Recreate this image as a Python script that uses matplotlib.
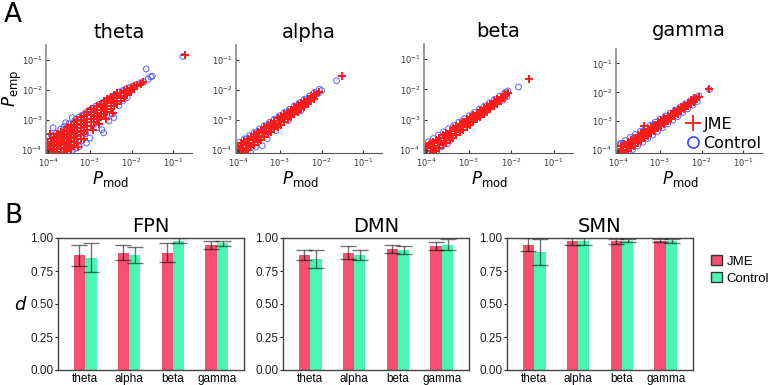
import numpy as np
import matplotlib
matplotlib.use('Agg')
import matplotlib.pyplot as plt
from matplotlib.patches import Patch
from matplotlib.lines import Line2D

bands = ['theta', 'alpha', 'beta', 'gamma']
networks = ['FPN', 'DMN', 'SMN']

# ---- panel A: (log10 P_mod, log10 P_emp) ----
theta_jme = [
    (-4.10, -4.08), (-4.10, -3.95), (-4.10, -3.82),
    (-4.02, -4.10), (-4.02, -3.97), (-4.02, -3.84), (-4.02, -3.72),
    (-3.94, -4.04), (-3.94, -3.91), (-3.94, -3.78), (-3.94, -3.64),
    (-3.86, -4.08), (-3.86, -3.96), (-3.86, -3.83), (-3.86, -3.70), (-3.86, -3.56),
    (-3.78, -4.10), (-3.78, -3.98), (-3.78, -3.86), (-3.78, -3.74), (-3.78, -3.61), (-3.78, -3.48),
    (-3.70, -4.06), (-3.70, -3.93), (-3.70, -3.80), (-3.70, -3.67), (-3.70, -3.54), (-3.70, -3.40),
    (-3.62, -4.08), (-3.62, -3.96), (-3.62, -3.84), (-3.62, -3.72), (-3.62, -3.59), (-3.62, -3.46), (-3.62, -3.32),
    (-3.54, -4.02), (-3.54, -3.89), (-3.54, -3.76), (-3.54, -3.63), (-3.54, -3.50), (-3.54, -3.37), (-3.54, -3.24),
    (-3.46, -3.95), (-3.46, -3.82), (-3.46, -3.69), (-3.46, -3.56), (-3.46, -3.43), (-3.46, -3.30), (-3.46, -3.16),
    (-3.38, -3.86), (-3.38, -3.74), (-3.38, -3.61), (-3.38, -3.48), (-3.38, -3.35), (-3.38, -3.22), (-3.38, -3.08),
    (-3.30, -3.76), (-3.30, -3.64), (-3.30, -3.52), (-3.30, -3.40), (-3.30, -3.28), (-3.30, -3.15), (-3.30, -3.00),
    (-3.22, -3.62), (-3.22, -3.50), (-3.22, -3.38), (-3.22, -3.26), (-3.22, -3.14), (-3.22, -3.02), (-3.22, -2.91),
    (-3.14, -3.48), (-3.14, -3.36), (-3.14, -3.24), (-3.14, -3.12), (-3.14, -3.00), (-3.14, -2.88),
    (-3.06, -3.32), (-3.06, -3.20), (-3.06, -3.08), (-3.06, -2.96), (-3.06, -2.84), (-3.06, -2.74),
    (-2.98, -3.20), (-2.98, -3.08), (-2.98, -2.96), (-2.98, -2.84), (-2.98, -2.72), (-2.98, -2.64),
    (-2.90, -3.08), (-2.90, -2.96), (-2.90, -2.85), (-2.90, -2.74), (-2.90, -2.62),
    (-2.82, -2.98), (-2.82, -2.87), (-2.82, -2.76), (-2.82, -2.65), (-2.82, -2.54),
    (-2.74, -2.90), (-2.74, -2.79), (-2.74, -2.68), (-2.74, -2.57), (-2.74, -2.46),
    (-2.66, -2.80), (-2.66, -2.70), (-2.66, -2.60), (-2.66, -2.49), (-2.66, -2.38),
    (-2.58, -2.72), (-2.58, -2.62), (-2.58, -2.52), (-2.58, -2.41), (-2.58, -2.31),
    (-2.50, -2.63), (-2.50, -2.53), (-2.50, -2.43), (-2.50, -2.33), (-2.50, -2.22),
    (-2.42, -2.54), (-2.42, -2.44), (-2.42, -2.35), (-2.42, -2.25), (-2.42, -2.16),
    (-2.34, -2.45), (-2.34, -2.36), (-2.34, -2.27), (-2.34, -2.17), (-2.34, -2.09),
    (-2.26, -2.36), (-2.26, -2.27), (-2.26, -2.19), (-2.26, -2.10),
    (-2.18, -2.27), (-2.18, -2.19), (-2.18, -2.11), (-2.18, -2.03),
    (-2.10, -2.18), (-2.10, -2.10), (-2.10, -2.02), (-2.10, -1.95),
    (-2.02, -2.08), (-2.02, -2.00), (-2.02, -1.92),
    (-1.94, -1.96), (-1.94, -1.88), (-1.86, -1.88), (-1.86, -1.82),
    (-1.78, -1.80), (-1.72, -1.74),
    (-2.79, -3.12), (-2.62, -2.98), (-2.92, -3.32), (-3.14, -3.62), (-3.29, -3.90),
    (-3.96, -3.45), (-2.45, -2.75), (-0.72, -0.84),
]
theta_ctrl = [
    (-4.08, -3.68), (-4.00, -3.56), (-3.92, -3.50), (-3.88, -3.26), (-3.80, -3.44),
    (-3.75, -3.46), (-3.70, -3.30), (-3.62, -3.22), (-3.58, -3.09), (-3.50, -3.12),
    (-3.42, -2.92), (-3.34, -2.98), (-3.26, -2.90), (-3.18, -2.84), (-3.10, -2.76),
    (-3.02, -2.68), (-2.94, -2.61), (-2.86, -2.54), (-2.78, -2.48), (-2.70, -2.42),
    (-2.62, -2.36), (-2.54, -2.29), (-2.46, -2.21), (-2.38, -2.14), (-2.30, -2.07),
    (-2.22, -2.02), (-2.14, -1.97), (-2.06, -1.93), (-1.98, -1.88), (-1.90, -1.83),
    (-2.46, -2.80), (-2.42, -2.92), (-2.54, -3.03), (-2.71, -3.32), (-2.67, -3.43),
    (-2.83, -3.26), (-3.00, -3.60), (-3.08, -3.77), (-3.25, -3.89), (-2.30, -2.52),
    (-2.20, -2.35), (-2.10, -2.25), (-2.60, -2.85), (-2.90, -3.15), (-3.10, -3.45),
    (-3.35, -3.95), (-3.20, -3.70), (-3.50, -4.08), (-3.42, -4.02),
    (-4.10, -4.10), (-4.02, -4.05), (-3.90, -4.10), (-2.12, -2.07),
    (-1.78, -1.76), (-1.71, -1.73), (-1.60, -1.64), (-1.54, -1.56), (-1.50, -1.54),
    (-1.65, -1.30), (-0.77, -0.88),
]
alpha_jme = [
    (-4.05, -4.08), (-3.97, -4.00), (-3.89, -3.92), (-3.81, -3.84), (-3.73, -3.76),
    (-3.65, -3.68), (-3.57, -3.60), (-3.49, -3.52), (-3.41, -3.44), (-3.33, -3.36),
    (-3.25, -3.28), (-3.17, -3.20), (-3.09, -3.12), (-3.01, -3.04), (-2.93, -2.96),
    (-2.85, -2.88), (-2.77, -2.80), (-2.69, -2.72), (-2.61, -2.64), (-2.53, -2.56),
    (-2.45, -2.48), (-2.37, -2.40), (-2.29, -2.32), (-2.21, -2.24), (-2.13, -2.16),
    (-2.05, -2.08),
    (-4.01, -4.12), (-3.93, -4.12), (-3.85, -4.07), (-3.77, -3.99), (-3.69, -3.90),
    (-3.61, -3.82), (-3.53, -3.73), (-3.45, -3.65), (-3.37, -3.57), (-3.29, -3.48),
    (-3.21, -3.40), (-3.13, -3.31), (-3.05, -3.23), (-2.97, -3.15), (-2.89, -3.06),
    (-2.81, -2.97), (-2.73, -2.89), (-2.65, -2.80), (-2.57, -2.72), (-2.49, -2.63),
    (-2.41, -2.55), (-2.33, -2.46), (-2.25, -2.38), (-2.17, -2.29),
    (-4.01, -3.87), (-3.93, -3.78), (-3.85, -3.70), (-3.77, -3.62), (-3.69, -3.55),
    (-3.61, -3.47), (-3.53, -3.39), (-3.45, -3.32), (-3.37, -3.24), (-3.29, -3.16),
    (-3.21, -3.09), (-3.13, -3.02), (-3.05, -2.94), (-2.97, -2.87), (-2.89, -2.80),
    (-2.81, -2.72), (-2.73, -2.65), (-2.65, -2.58), (-2.57, -2.51), (-2.49, -2.43),
    (-2.41, -2.36), (-2.33, -2.29), (-2.25, -2.21), (-2.17, -2.14),
    (-4.05, -3.95), (-1.52, -1.53),
]
alpha_ctrl = [
    (-3.97, -3.74), (-3.85, -3.63), (-3.73, -3.52), (-3.61, -3.41), (-3.49, -3.30),
    (-3.37, -3.19), (-3.25, -3.08), (-3.13, -2.97), (-3.01, -2.86), (-2.89, -2.75),
    (-2.77, -2.64), (-2.65, -2.53), (-2.53, -2.42), (-2.41, -2.31), (-2.29, -2.20),
    (-2.17, -2.08), (-2.05, -1.97), (-2.00, -2.02), (-2.08, -2.12),
    (-3.42, -3.86), (-3.58, -3.90), (-3.30, -3.62), (-3.70, -4.08), (-3.10, -3.36),
    (-2.80, -3.02), (-2.50, -2.70), (-3.50, -3.50), (-3.00, -3.00), (-2.50, -2.50),
    (-1.64, -1.69),
]
beta_jme = [
    (-4.05, -4.10), (-3.97, -4.02), (-3.89, -3.94), (-3.81, -3.86), (-3.73, -3.78),
    (-3.65, -3.70), (-3.57, -3.62), (-3.49, -3.54), (-3.41, -3.46), (-3.33, -3.38),
    (-3.25, -3.30), (-3.17, -3.22), (-3.09, -3.14), (-3.01, -3.06), (-2.93, -2.98),
    (-2.85, -2.90), (-2.77, -2.82), (-2.69, -2.74), (-2.61, -2.66), (-2.53, -2.58),
    (-2.45, -2.50), (-2.37, -2.42), (-2.29, -2.34), (-2.21, -2.26), (-2.13, -2.18),
    (-3.85, -4.10), (-3.77, -4.02), (-3.69, -3.93), (-3.61, -3.84), (-3.53, -3.76),
    (-3.45, -3.67), (-3.37, -3.59), (-3.29, -3.50), (-3.21, -3.41), (-3.13, -3.33),
    (-3.05, -3.24), (-2.97, -3.16), (-2.89, -3.07), (-2.81, -2.98), (-2.73, -2.90),
    (-2.65, -2.81), (-2.57, -2.73), (-2.49, -2.64), (-2.41, -2.56), (-2.33, -2.47),
    (-2.25, -2.39), (-2.17, -2.30),
    (-4.01, -3.89), (-3.93, -3.82), (-3.85, -3.74), (-3.77, -3.67), (-3.69, -3.59),
    (-3.61, -3.52), (-3.53, -3.44), (-3.45, -3.37), (-3.37, -3.29), (-3.29, -3.22),
    (-3.21, -3.14), (-3.13, -3.07), (-3.05, -2.99), (-2.97, -2.92), (-2.89, -2.84),
    (-2.81, -2.77), (-2.73, -2.69), (-2.65, -2.62), (-2.57, -2.54), (-2.49, -2.47),
    (-2.41, -2.39), (-2.33, -2.32), (-2.25, -2.24), (-2.17, -2.16),
    (-3.92, -3.77), (-4.05, -3.98), (-4.01, -4.12), (-2.07, -2.13), (-1.58, -1.64),
]
beta_ctrl = [
    (-3.95, -3.73), (-3.83, -3.62), (-3.71, -3.51), (-3.59, -3.40), (-3.47, -3.30),
    (-3.35, -3.19), (-3.23, -3.08), (-3.11, -2.97), (-2.99, -2.87), (-2.87, -2.76),
    (-2.75, -2.65), (-2.63, -2.55), (-2.51, -2.44), (-2.39, -2.33), (-2.27, -2.22),
    (-2.15, -2.11), (-2.08, -2.05),
    (-3.63, -3.89), (-3.50, -3.80), (-3.75, -4.05), (-2.20, -2.36), (-2.10, -2.24),
    (-3.00, -3.05), (-2.50, -2.55), (-1.83, -1.92),
]
gamma_jme = [
    (-3.97, -4.06), (-3.89, -3.98), (-3.81, -3.90), (-3.73, -3.82), (-3.65, -3.74),
    (-3.57, -3.66), (-3.49, -3.58), (-3.41, -3.50), (-3.33, -3.42), (-3.25, -3.34),
    (-3.17, -3.26), (-3.09, -3.18), (-3.01, -3.10), (-2.93, -3.02), (-2.85, -2.94),
    (-2.77, -2.86), (-2.69, -2.78), (-2.61, -2.70), (-2.53, -2.62), (-2.45, -2.54),
    (-2.37, -2.46), (-2.29, -2.38), (-2.21, -2.30), (-2.13, -2.22),
    (-3.93, -4.11), (-3.85, -4.10), (-3.77, -4.02), (-3.69, -3.93), (-3.61, -3.85),
    (-3.53, -3.76), (-3.45, -3.68), (-3.37, -3.59), (-3.29, -3.51), (-3.21, -3.42),
    (-3.13, -3.34), (-3.05, -3.25), (-2.97, -3.17), (-2.89, -3.08), (-2.81, -3.00),
    (-2.73, -2.91), (-2.65, -2.83), (-2.57, -2.74), (-2.49, -2.66), (-2.41, -2.58),
    (-2.33, -2.49), (-2.25, -2.41), (-2.17, -2.33),
    (-3.93, -3.87), (-3.85, -3.79), (-3.77, -3.72), (-3.69, -3.64), (-3.61, -3.57),
    (-3.53, -3.49), (-3.45, -3.42), (-3.37, -3.34), (-3.29, -3.27), (-3.21, -3.19),
    (-3.13, -3.12), (-3.05, -3.04), (-2.97, -2.97), (-2.89, -2.89), (-2.81, -2.82),
    (-2.73, -2.74), (-2.65, -2.66), (-2.57, -2.59), (-2.49, -2.51), (-2.41, -2.43),
    (-2.33, -2.36), (-2.25, -2.28), (-2.17, -2.20),
    (-3.38, -3.18), (-2.07, -2.15), (-1.81, -1.90),
]
gamma_ctrl = [
    (-3.95, -3.78), (-3.83, -3.67), (-3.71, -3.56), (-3.59, -3.46), (-3.47, -3.35),
    (-3.35, -3.25), (-3.23, -3.14), (-3.11, -3.03), (-2.99, -2.93), (-2.87, -2.82),
    (-2.75, -2.72), (-2.63, -2.61), (-2.51, -2.51), (-2.39, -2.40), (-2.27, -2.30),
    (-2.15, -2.19), (-2.06, -2.12),
    (-3.89, -4.10), (-3.77, -4.10), (-3.65, -3.98), (-3.53, -3.86), (-3.41, -3.73),
    (-3.29, -3.60), (-3.17, -3.48), (-3.05, -3.35), (-2.93, -3.22), (-2.81, -3.09),
    (-2.69, -2.96), (-2.57, -2.84), (-2.45, -2.70), (-2.33, -2.57), (-2.21, -2.44),
    (-2.10, -2.32),
    (-3.92, -3.77), (-3.95, -3.95), (-3.94, -4.06), (-3.96, -4.12),
    (-1.81, -1.90),
]

# ---- panel B: mean d and error per band ----
fpn_jme = [0.87, 0.89, 0.89, 0.95]
fpn_jme_err = [0.08, 0.06, 0.07, 0.03]
fpn_ctrl = [0.85, 0.87, 0.98, 0.96]
fpn_ctrl_err = [0.11, 0.06, 0.02, 0.02]
dmn_jme = [0.87, 0.89, 0.92, 0.94]
dmn_jme_err = [0.04, 0.05, 0.03, 0.03]
dmn_ctrl = [0.84, 0.87, 0.91, 0.95]
dmn_ctrl_err = [0.07, 0.04, 0.03, 0.04]
smn_jme = [0.95, 0.975, 0.975, 0.98]
smn_jme_err = [0.05, 0.025, 0.02, 0.01]
smn_ctrl = [0.895, 0.975, 0.98, 0.98]
smn_ctrl_err = [0.10, 0.025, 0.01, 0.015]

RED = '#FF1A1A'
BLUE = '#3846FF'
JME_C = '#F5506F'
CTRL_C = '#4CF5B4'

W, H = 770, 385
fig = plt.figure(figsize=(W / 100, H / 100), dpi=100)


def px_axes(left, top, right, bottom):
    return fig.add_axes([left / W, 1 - bottom / H, (right - left) / W, (bottom - top) / H])


scatter_data = [(theta_jme, theta_ctrl), (alpha_jme, alpha_ctrl),
                (beta_jme, beta_ctrl), (gamma_jme, gamma_ctrl)]
a_boxes = [(46, 45, 192, 153), (236, 45, 382, 153), (424, 44, 573, 153), (616, 49, 762, 153)]

for i, band in enumerate(bands):
    ax = px_axes(*a_boxes[i])
    jme, ctrl = scatter_data[i]
    jme = 10 ** np.array(jme)
    ctrl = 10 ** np.array(ctrl)
    ax.scatter(ctrl[:, 0], ctrl[:, 1], s=17, facecolors='none', edgecolors=BLUE,
               linewidths=0.8, alpha=0.75)
    ax.scatter(jme[:, 0], jme[:, 1], s=30, marker='+', color=RED, linewidths=1.4)
    ax.set_xscale('log')
    ax.set_yscale('log')
    ax.set_xlim(10 ** -4.05, 10 ** -0.55)
    ax.set_ylim(10 ** -4.1, 10 ** -0.5)
    ax.set_xticks([1e-4, 1e-3, 1e-2, 1e-1])
    ax.set_yticks([1e-4, 1e-3, 1e-2, 1e-1])
    ax.minorticks_off()
    ax.tick_params(labelsize=6, length=2, direction='in', colors='#333333', pad=2.5)
    for s in ['top', 'right']:
        ax.spines[s].set_visible(False)
    ax.spines['left'].set_color('#888888')
    ax.spines['bottom'].set_color('#555555')
    ax.spines['left'].set_linewidth(1.2)
    ax.set_title(band, fontsize=14, pad=9 if band == 'gamma' else 5)
    ax.set_xlabel(r'$P_{\mathrm{mod}}$', fontsize=12, labelpad=0)
    ax.xaxis.set_label_coords(0.44, -0.15)
    if band == 'gamma':
        handles = [Line2D([], [], ls='none', marker='+', color=RED, markersize=11, mew=1.3),
                   Line2D([], [], ls='none', marker='o', mfc='none', mec=BLUE, markersize=8, mew=1.2)]
        ax.legend(handles, ['JME', 'Control'], loc='lower right', frameon=False, fontsize=11.5,
                  handletextpad=0.05, handlelength=1.2, borderaxespad=0,
                  bbox_to_anchor=(1.04, -0.04), labelspacing=0.25)

fig.text(12 / W, 1 - 88 / H, r'$P_{\mathrm{emp}}$', rotation=90, fontsize=12,
         ha='center', va='center')
fig.text(4 / W, 1 - 2 / H, 'A', fontsize=19, ha='left', va='top')
fig.text(4 / W, 1 - 203 / H, 'B', fontsize=19, ha='left', va='top')
fig.text(21 / W, 1 - 305 / H, r'$d$', fontsize=13, ha='center', va='center')

bar_data = [(fpn_jme, fpn_jme_err, fpn_ctrl, fpn_ctrl_err),
            (dmn_jme, dmn_jme_err, dmn_ctrl, dmn_ctrl_err),
            (smn_jme, smn_jme_err, smn_ctrl, smn_ctrl_err)]
b_lefts = [58, 283, 507]
x = np.arange(1, 5)
bw = 0.26
for i, net in enumerate(networks):
    ax = px_axes(b_lefts[i], 238, b_lefts[i] + 186, 370)
    m1, e1, m2, e2 = bar_data[i]
    ax.bar(x - bw / 2, m1, bw, color=JME_C)
    ax.bar(x + bw / 2, m2, bw, color=CTRL_C)
    ax.errorbar(x - bw / 2, m1, yerr=e1, fmt='none', ecolor='black', alpha=0.55,
                elinewidth=1, capsize=5.5, capthick=1)
    ax.errorbar(x + bw / 2, m2, yerr=e2, fmt='none', ecolor='black', alpha=0.55,
                elinewidth=1, capsize=5.5, capthick=1)
    ax.set_xlim(0.38, 4.62)
    ax.set_ylim(0, 1)
    ax.set_xticks(x)
    ax.set_xticklabels(bands, fontfamily='Liberation Sans')
    ax.set_yticks([0, 0.25, 0.5, 0.75, 1.0])
    ax.set_yticklabels(['0.00', '0.25', '0.50', '0.75', '1.00'], fontfamily='Liberation Sans')
    ax.tick_params(axis='x', length=0, labelsize=8.5, pad=2)
    ax.tick_params(axis='y', length=2, labelsize=8.5, pad=1.5, colors='#222222')
    for s in ax.spines.values():
        s.set_color('#444444')
        s.set_linewidth(1)
    ax.set_title(net, fontsize=14, pad=4)

leg_handles = [Patch(facecolor=JME_C, edgecolor='#333333', linewidth=1),
               Patch(facecolor=CTRL_C, edgecolor='#333333', linewidth=1)]
fig.legend(leg_handles, ['JME', 'Control'], loc='upper left',
           bbox_to_anchor=(706 / W, 1 - 250 / H), frameon=False,
           prop={'family': 'Liberation Sans', 'size': 9.5},
           handlelength=0.8, handleheight=0.8, handletextpad=0.35, labelspacing=0.3,
           borderaxespad=0)

fig.savefig('out.png', dpi=100)
